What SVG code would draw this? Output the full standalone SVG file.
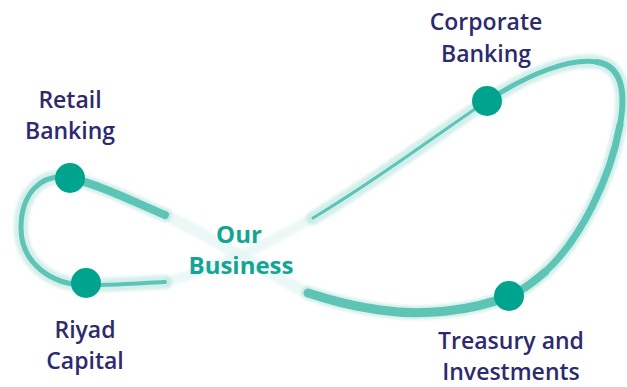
<svg xmlns="http://www.w3.org/2000/svg" width="627" height="387" viewBox="0 0 627 387">
  <style>
    .label { font-family: "Open Sans", "Liberation Sans", sans-serif; font-weight: 600; font-size: 23px; fill: #2d2a6e; text-anchor: middle; }
    .hub { font-family: "Open Sans", "Liberation Sans", sans-serif; font-weight: 700; font-size: 24px; fill: #13a594; text-anchor: middle; }
    .halo { fill: none; stroke: #9fdcd2; stroke-opacity: 0.45; stroke-linecap: round; filter: url(#soft); }
    .core { fill: none; stroke: #5ec5b6; stroke-linecap: round; }
    .faint { fill: none; stroke: #e3f5f2; stroke-opacity: 0.7; filter: url(#soft); }
    .dot { fill: #00a38e; }
  </style>
  <defs>
    <filter id="soft" x="-10%" y="-10%" width="120%" height="120%">
      <feGaussianBlur stdDeviation="1.6"/>
    </filter>
  </defs>
  <rect width="627" height="387" fill="#ffffff"/>

  <g id="connectors">
    <!-- faint crossing through the centre -->
    <path class="faint" stroke-width="12" d="M165,215 C 210,235 260,270 308,293"/>
    <path class="faint" stroke-width="10" d="M165,282 C 215,270 265,245 313,218"/>

    <!-- left loop -->
    <path class="halo" stroke-width="14" d="M165,215 C 130,200 100,185 70,178 C 40,172 21,195 21,228 C 21,262 50,285 86,285 C 115,285 140,283 165,282"/>
    <path class="core" stroke-width="8" d="M165,215 C 130,200 100,185 70,178"/>
    <path class="core" stroke-width="5" d="M70,178 C 40,172 21,195 21,228 C 21,262 50,285 86,285"/>
    <path class="core" stroke-width="4" d="M86,285 C 115,285 140,283 165,282"/>

    <!-- right loop -->
    <path class="halo" stroke-width="14" d="M313,218 C 380,178 440,132 487,101 C 530,73 570,58 597,62 C 622,66 626,92 620,125 C 610,180 580,240 545,272 C 530,285 520,292 509,296 C 470,312 420,316 380,310 C 350,306 330,300 308,293"/>
    <path class="core" stroke-width="3" d="M313,218 C 380,178 440,132 487,101"/>
    <path class="core" stroke-width="5" d="M487,101 C 530,73 570,58 597,62"/>
    <path class="core" stroke-width="6" d="M597,62 C 622,66 626,92 620,125"/>
    <path class="core" stroke-width="7" d="M620,125 C 610,180 580,240 545,272"/>
    <path class="core" stroke-width="8" d="M545,272 C 530,285 520,292 509,296"/>
    <path class="core" stroke-width="9" d="M509,296 C 470,312 420,316 380,310 C 350,306 330,300 308,293"/>
  </g>

  <g id="hub">
    <text class="hub" x="239" y="243">Our</text>
    <text class="hub" x="241" y="274">Business</text>
  </g>

  <g id="retail-banking">
    <circle class="dot" cx="70" cy="178" r="15"/>
    <text class="label" x="70" y="108">Retail</text>
    <text class="label" x="70" y="139">Banking</text>
  </g>

  <g id="riyad-capital">
    <circle class="dot" cx="86" cy="283" r="15"/>
    <text class="label" x="85" y="338">Riyad</text>
    <text class="label" x="85" y="369">Capital</text>
  </g>

  <g id="corporate-banking">
    <circle class="dot" cx="487" cy="101" r="15"/>
    <text class="label" x="486" y="30">Corporate</text>
    <text class="label" x="486" y="62">Banking</text>
  </g>

  <g id="treasury-investments">
    <circle class="dot" cx="509" cy="296" r="15"/>
    <text class="label" x="511" y="349">Treasury and</text>
    <text class="label" x="511" y="380">Investments</text>
  </g>
</svg>
